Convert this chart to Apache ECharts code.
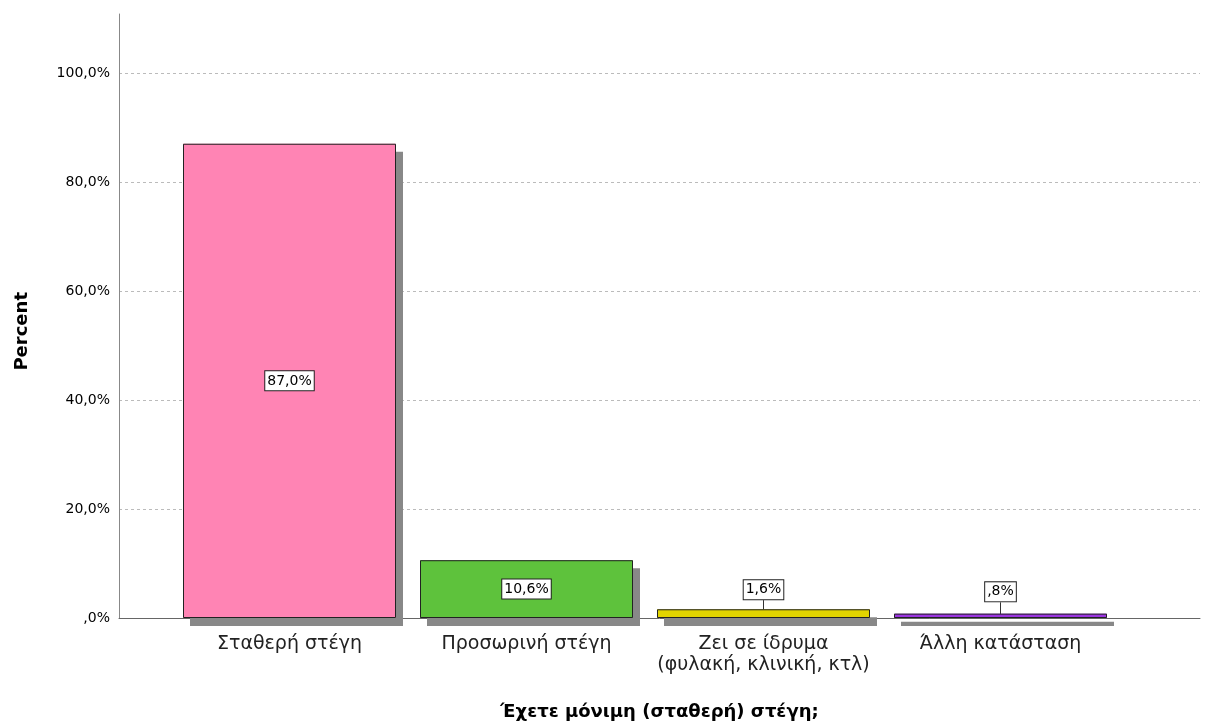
<!DOCTYPE html>
<html>
<head>
<meta charset="utf-8">
<script src="https://cdn.jsdelivr.net/npm/echarts@6/dist/echarts.min.js"></script>
<style>
html, body { margin: 0; padding: 0; background: #fff; }
#chart { width: 1216px; height: 726px; }
</style>
</head>
<body>
<div id="chart"></div>
<script>
// categories and values (percent)
const categories = [
    "Σταθερή στέγη",
    "Προσωρινή στέγη",
    "Ζει σε ίδρυμα\n(φυλακή, κλινική, κτλ)",
    "Άλλη κατάσταση"
];
const percents = [87.0, 10.6, 1.6, 0.8];
const barColors = ["#ff84b4", "#5ec23c", "#e2d400", "#9b34e0"];

const xTitle = "Έχετε μόνιμη (σταθερή) στέγη;";
const yTitle = "Percent";

const FONT = "DejaVu Sans, sans-serif";

// SPSS style: 0,8 -> ,8
function spss(v) {
    let s = v.toFixed(1).replace(".", ",");
    if (s.indexOf("0,") === 0) s = s.slice(1);
    return s + "%";
}

const chart = echarts.init(document.getElementById("chart"));

chart.setOption({
    animation: false,
    grid: [
        { left: 119, right: 16, top: 14, bottom: 108, outerBoundsMode: "none" },
        { left: 171, right: 97, top: 14, bottom: 108, outerBoundsMode: "none" }
    ],
    xAxis: [
        {
            gridIndex: 0,
            type: "value",
            min: 0,
            max: 1,
            axisLine: { show: true, onZero: false, lineStyle: { color: "#666", width: 1 } },
            axisTick: { show: false },
            axisLabel: { show: false },
            splitLine: { show: false },
            name: xTitle,
            nameLocation: "middle",
            nameGap: 85,
            nameTextStyle: {
                fontFamily: FONT,
                fontSize: 18,
                fontWeight: "bold",
                color: "#000"
            }
        },
        {
            gridIndex: 1,
            type: "category",
            data: categories,
            axisLine: { show: false },
            axisTick: { show: false },
            axisLabel: {
                interval: 0,
                hideOverlap: false,
                margin: 16,
                fontFamily: FONT,
                fontSize: 19,
                lineHeight: 21,
                color: "#222"
            }
        }
    ],
    yAxis: [
        {
            gridIndex: 0,
            type: "value",
            min: 0,
            max: 110.8,
            interval: 20,
            axisLine: { show: true, lineStyle: { color: "#888", width: 1 } },
            axisTick: { show: false },
            axisLabel: {
                showMaxLabel: false,
                margin: 9,
                fontFamily: FONT,
                fontSize: 14,
                color: "#000",
                formatter: v => spss(v)
            },
            splitLine: {
                show: true,
                showMinLine: false,
                showMaxLine: false,
                lineStyle: { color: "#bbb", type: [3, 3], width: 1 }
            }
        },
        {
            gridIndex: 1,
            type: "value",
            min: 0,
            max: 110.8,
            show: false
        }
    ],
    graphic: [{
        type: "text",
        left: 13,
        top: 292,
        rotation: Math.PI / 2,
        style: {
            text: yTitle,
            fontFamily: FONT,
            fontSize: 18,
            fontWeight: "bold",
            fill: "#000"
        }
    }],
    series: [
        {
            // filled bars with drop shadow
            type: "bar",
            xAxisIndex: 1,
            yAxisIndex: 1,
            barWidth: 213,
            barGap: "-100%",
            silent: true,
            data: percents.map((v, i) => ({
                value: v,
                itemStyle: { color: barColors[i] }
            })),
            itemStyle: {
                borderWidth: 0,
                shadowColor: "#888",
                shadowBlur: 0,
                shadowOffsetX: 7,
                shadowOffsetY: 8
            }
        },
        {
            // outlines and value labels
            type: "bar",
            xAxisIndex: 1,
            yAxisIndex: 1,
            barWidth: 213,
            barGap: "-100%",
            data: percents,
            itemStyle: {
                color: "rgba(0,0,0,0)",
                borderColor: "#222",
                borderWidth: 1
            },
            label: {
                show: true,
                position: "inside",
                formatter: p => spss(p.value),
                fontFamily: FONT,
                fontSize: 14,
                color: "#000",
                backgroundColor: "#fff",
                borderColor: "#222",
                borderWidth: 1,
                padding: [3, 2, 2, 2]
            },
            labelLine: {
                show: true,
                lineStyle: { color: "#333", width: 1 }
            },
            labelLayout: p => {
                if (p.dataIndex >= 2) {
                    return { dy: -24 };
                }
                return {};
            }
        }
    ]
});

window.addEventListener("resize", () => chart.resize());
</script>
</body>
</html>
